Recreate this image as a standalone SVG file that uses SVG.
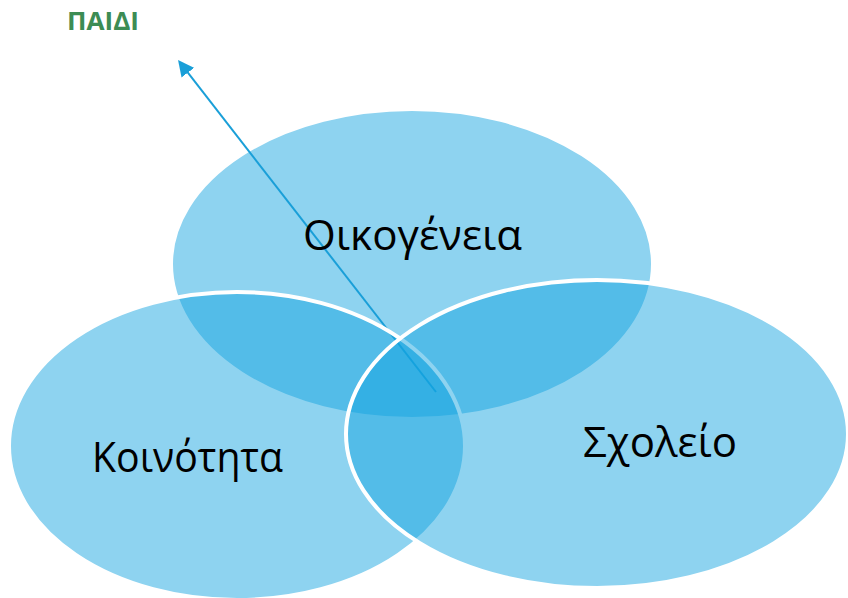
<svg xmlns="http://www.w3.org/2000/svg" width="848" height="598" viewBox="0 0 848 598">
<style>
.e{fill:#12a4e0;fill-opacity:0.48;stroke:#ffffff;stroke-width:4}
.t{font-family:"Open Sans","Noto Sans",sans-serif;font-size:42px;fill:#000000}
.h{font-family:"Open Sans","Liberation Sans",sans-serif;font-size:25px;font-weight:bold;fill:#3c8c54}
</style>
<defs>
<marker id="ah" markerWidth="8" markerHeight="8" refX="6" refY="4" orient="auto" markerUnits="strokeWidth">
<path d="M0,0 L8,4 L0,8 Z" fill="#1a9fd8"/>
</marker>
</defs>
<rect width="848" height="598" fill="#ffffff"/>
<g id="oikogeneia">
<ellipse class="e" cx="412" cy="264" rx="241" ry="155"/>
</g>
<g id="connectors">
<line x1="436" y1="392" x2="180.5" y2="63.2" stroke="#1a9fd8" stroke-width="2" marker-end="url(#ah)"/>
</g>
<g id="koinotita">
<ellipse class="e" cx="237" cy="446" rx="228" ry="154"/>
</g>
<g id="scholeio">
<ellipse class="e" cx="597" cy="434" rx="251" ry="154"/>
</g>
<text class="t" x="303" y="250" textLength="219" lengthAdjust="spacingAndGlyphs">Οικογένεια</text>
<text class="t" x="92" y="472" textLength="191" lengthAdjust="spacingAndGlyphs">Κοινότητα</text>
<text class="t" x="583" y="457" textLength="154" lengthAdjust="spacingAndGlyphs">Σχολείο</text>
<g id="paidi">
<text class="h" x="67" y="30" textLength="72" lengthAdjust="spacingAndGlyphs">ΠΑΙΔΙ</text>
</g>
</svg>
